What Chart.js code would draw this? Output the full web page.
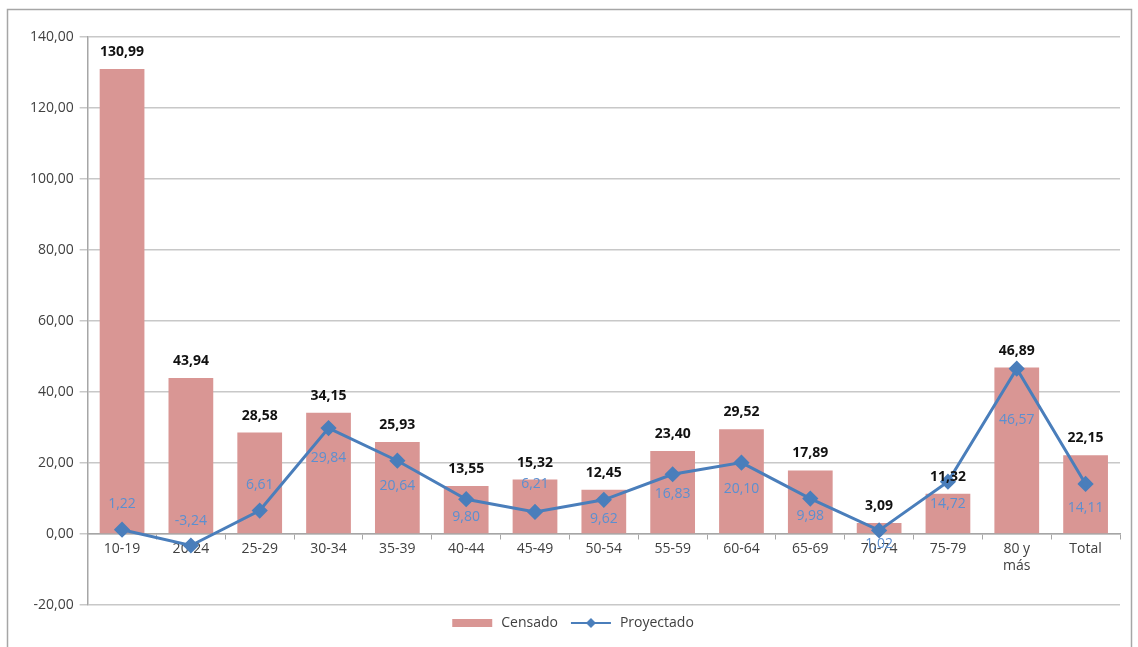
<!DOCTYPE html>
<html>
<head>
<meta charset="utf-8">
<script src="https://cdn.jsdelivr.net/npm/chart.js@4.4.1/dist/chart.umd.min.js"></script>
<style>
    html, body { margin: 0; padding: 0; background: #fff; }
    #wrap { width: 1138px; height: 647px; }
</style>
</head>
<body>
<div id="wrap"><canvas id="myChart" width="1138" height="647"></canvas></div>
<script>
// categories and values
const grupos = ['10-19', '20-24', '25-29', '30-34', '35-39', '40-44', '45-49', '50-54',
    '55-59', '60-64', '65-69', '70-74', '75-79', ['80 y', 'más'], 'Total'];
const censado = [130.99, 43.94, 28.58, 34.15, 25.93, 13.55, 15.32, 12.45, 23.40, 29.52, 17.89, 3.09, 11.32, 46.89, 22.15];
const proyectado = [1.22, -3.24, 6.61, 29.84, 20.64, 9.80, 6.21, 9.62, 16.83, 20.10, 9.98, 1.02, 14.72, 46.57, 14.11];
const yTicks = [-20, 0, 20, 40, 60, 80, 100, 120, 140];

// where each blue label sits relative to its point (px, negative = above)
const lineLabelOffset = [-26, -24, -26, 30, 25, 18, -28, 19, 20, 26, 17, 14, 22, 51, 24];

const barColor = '#d99694';
const lineColor = '#4a7ebb';
const fmt = v => v.toFixed(2).replace('.', ',');

// legend swatches
function swatch(kind) {
    const c = document.createElement('canvas');
    c.width = 44; c.height = 12;
    const g = c.getContext('2d');
    if (kind === 'bar') {
        g.fillStyle = barColor;
        g.fillRect(2, 2, 40, 8);
    } else {
        g.strokeStyle = lineColor;
        g.lineWidth = 2;
        g.beginPath(); g.moveTo(2, 6); g.lineTo(42, 6); g.stroke();
        g.fillStyle = lineColor;
        g.beginPath(); g.moveTo(22, 1); g.lineTo(27, 6); g.lineTo(22, 11); g.lineTo(17, 6); g.closePath(); g.fill();
    }
    return c;
}

const valueLabels = {
    id: 'valueLabels',
    afterDatasetsDraw(chart) {
        const ctx = chart.ctx;
        ctx.save();
        ctx.textAlign = 'center';
        ctx.textBaseline = 'middle';
        chart.getDatasetMeta(0).data.forEach((bar, i) => {
            ctx.font = 'bold 14px "Open Sans"';
            ctx.fillStyle = '#111';
            ctx.fillText(fmt(censado[i]), bar.x, bar.y - 17);
        });
        chart.getDatasetMeta(1).data.forEach((pt, i) => {
            ctx.font = '14px "Open Sans"';
            ctx.fillStyle = '#5b8fd0';
            ctx.fillText(fmt(proyectado[i]), pt.x, pt.y + lineLabelOffset[i]);
        });
        ctx.restore();
    }
};

const frame = {
    id: 'frame',
    beforeDraw(chart) {
        const ctx = chart.ctx;
        ctx.save();
        ctx.strokeStyle = '#a6a6a6';
        ctx.lineWidth = 1.5;
        ctx.strokeRect(7.5, 9.5, 1124, 660);
        ctx.restore();
    }
};

const ctx = document.getElementById('myChart').getContext('2d');
const chart = new Chart(ctx, {
    data: {
        labels: grupos,
        datasets: [
            {
                type: 'bar',
                label: 'Censado',
                data: censado,
                backgroundColor: barColor,
                categoryPercentage: 1,
                barPercentage: 0.65,
                order: 2
            },
            {
                type: 'line',
                label: 'Proyectado',
                data: proyectado,
                borderColor: lineColor,
                backgroundColor: lineColor,
                borderWidth: 3,
                pointStyle: 'rectRot',
                pointRadius: 6,
                pointHoverRadius: 6,
                tension: 0,
                order: 1
            }
        ]
    },
    options: {
        responsive: false,
        animation: false,
        layout: { padding: { top: 37, left: 24, right: 18, bottom: 7 } },
        plugins: {
            tooltip: { enabled: false },
            legend: {
                position: 'bottom',
                labels: {
                    usePointStyle: true,
                    pointStyleWidth: 44,
                    boxHeight: 12,
                    padding: 11,
                    color: '#404040',
                    font: { family: '"Open Sans"', size: 14 },
                    generateLabels: (ch) => ch.data.datasets.map((d, i) => ({
                        text: d.label,
                        pointStyle: swatch(i === 0 ? 'bar' : 'line'),
                        datasetIndex: i,
                        fontColor: '#404040',
                        hidden: false
                    }))
                }
            }
        },
        scales: {
            x: {
                position: { y: 0 },
                offset: true,
                grid: { display: true, drawOnChartArea: false, offset: true, tickLength: 5, color: '#a6a6a6' },
                border: { color: '#a6a6a6', width: 1.5 },
                ticks: { color: '#404040', font: { family: '"Open Sans"', size: 14 }, maxRotation: 0, autoSkip: false, padding: 2 }
            },
            y: {
                min: -20,
                max: 140,
                afterBuildTicks: (axis) => { axis.ticks = yTicks.map(v => ({ value: v })); },
                grid: { color: '#c8c8c8', lineWidth: 1.5, tickLength: 8, drawTicks: true },
                border: { color: '#a6a6a6', width: 1.5 },
                ticks: {
                    color: '#404040',
                    font: { family: '"Open Sans"', size: 14 },
                    padding: 6,
                    callback: (v) => fmt(v)
                }
            }
        }
    },
    plugins: [valueLabels, frame]
});
</script>
</body>
</html>
